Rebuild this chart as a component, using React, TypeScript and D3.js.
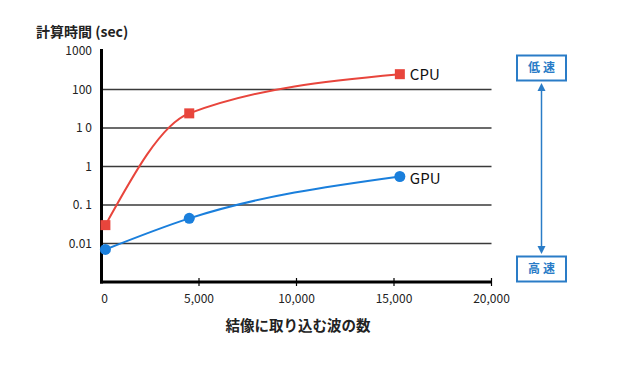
import * as d3 from "d3";
import React, { useRef, useEffect } from "react";

const yTicks = [1000, 100, 10, 1, 0.1, 0.01];
const yTickLabels = ["1000", "100", "1 0", "1", "0. 1", "0.01"];
const gridValues = [100, 10, 1, 0.1, 0.01];
const xTicks = [0, 5000, 10000, 15000, 20000];

const cpuWaves = [200, 4500, 15300];
const cpuTimes = [0.03, 24, 250];
const gpuWaves = [200, 4500, 15300];
const gpuTimes = [0.007, 0.045, 0.55];

const W = 633;
const H = 367;
const FONT = "'Noto Sans CJK JP', 'Noto Sans', sans-serif";
const RED = "#e8453c";
const BLUE = "#1a7fdc";
const SIDE = "#2a7cc7";

const App = () => {
  const ref = useRef(null);

  useEffect(() => {
    if (!ref.current) return;
    const svg = d3.select(ref.current);
    svg.selectAll("*").remove();

    const x = d3.scaleLinear().domain([0, 20000]).range([101.5, 491.5]);
    const y = d3.scaleLog().domain([0.001, 1000]).range([282, 51]);

    // grid lines
    svg
      .append("g")
      .selectAll("line")
      .data(gridValues)
      .enter()
      .append("line")
      .attr("x1", x(0))
      .attr("x2", x(20000))
      .attr("y1", (d) => y(d))
      .attr("y2", (d) => y(d))
      .attr("stroke", "#3a3a3a")
      .attr("stroke-width", 1.6);

    // axes
    svg
      .append("line")
      .attr("x1", x(0))
      .attr("x2", x(0))
      .attr("y1", y(1000) - 2)
      .attr("y2", y(0.001) + 1.5)
      .attr("stroke", "#000")
      .attr("stroke-width", 3);
    svg
      .append("line")
      .attr("x1", x(0) - 1.5)
      .attr("x2", x(20000))
      .attr("y1", y(0.001))
      .attr("y2", y(0.001))
      .attr("stroke", "#000")
      .attr("stroke-width", 3);

    svg
      .append("g")
      .selectAll("line")
      .data(xTicks.slice(1))
      .enter()
      .append("line")
      .attr("x1", (d) => x(d))
      .attr("x2", (d) => x(d))
      .attr("y1", y(0.001) - 4)
      .attr("y2", y(0.001) + 4)
      .attr("stroke", "#000")
      .attr("stroke-width", 1.2);

    // y tick labels
    svg
      .append("g")
      .selectAll("text")
      .data(yTicks)
      .enter()
      .append("text")
      .attr("x", 92)
      .attr("y", (d) => y(d))
      .attr("dy", "0.35em")
      .attr("text-anchor", "end")
      .style("font-family", FONT)
      .style("font-size", "12px")
      .attr("fill", "#222")
      .text((d, i) => yTickLabels[i]);

    // x tick labels
    svg
      .append("g")
      .selectAll("text")
      .data(xTicks)
      .enter()
      .append("text")
      .attr("x", (d) => (d === 0 ? x(d) + 3 : x(d)))
      .attr("y", 303)
      .attr("text-anchor", "middle")
      .style("font-family", FONT)
      .style("font-size", "12px")
      .attr("fill", "#222")
      .text((d) => d3.format(",")(d));

    // titles
    svg
      .append("text")
      .attr("x", 36)
      .attr("y", 37)
      .style("font-family", FONT)
      .style("font-size", "14px")
      .style("font-weight", "bold")
      .attr("fill", "#222")
      .text("計算時間 (sec)");
    svg
      .append("text")
      .attr("x", 298)
      .attr("y", 331)
      .attr("text-anchor", "middle")
      .style("font-family", FONT)
      .style("font-size", "14.5px")
      .style("font-weight", "bold")
      .attr("fill", "#222")
      .text("結像に取り込む波の数");

    const line = d3
      .line()
      .x((d) => x(d[0]))
      .y((d) => y(d[1]))
      .curve(d3.curveMonotoneX);

    const cpu = cpuWaves.map((w, i) => [w, cpuTimes[i]]);
    const gpu = gpuWaves.map((w, i) => [w, gpuTimes[i]]);

    svg
      .append("path")
      .datum(cpu)
      .attr("fill", "none")
      .attr("stroke", RED)
      .attr("stroke-width", 2)
      .attr("d", line);
    svg
      .append("g")
      .selectAll("rect")
      .data(cpu)
      .enter()
      .append("rect")
      .attr("x", (d) => x(d[0]) - 5)
      .attr("y", (d) => y(d[1]) - 5)
      .attr("width", 10)
      .attr("height", 10)
      .attr("fill", RED);

    svg
      .append("path")
      .datum(gpu)
      .attr("fill", "none")
      .attr("stroke", BLUE)
      .attr("stroke-width", 2)
      .attr("d", line);
    svg
      .append("g")
      .selectAll("circle")
      .data(gpu)
      .enter()
      .append("circle")
      .attr("cx", (d) => x(d[0]))
      .attr("cy", (d) => y(d[1]))
      .attr("r", 5.5)
      .attr("fill", BLUE);

    // series labels
    const last = cpu.length - 1;
    svg
      .append("text")
      .attr("x", x(cpu[last][0]) + 10)
      .attr("y", y(cpu[last][1]))
      .attr("dy", "0.36em")
      .style("font-family", FONT)
      .style("font-size", "15px")
      .attr("fill", "#111")
      .text("CPU");
    svg
      .append("text")
      .attr("x", x(gpu[last][0]) + 10)
      .attr("y", y(gpu[last][1]) + 2)
      .attr("dy", "0.36em")
      .style("font-family", FONT)
      .style("font-size", "15px")
      .attr("fill", "#111")
      .text("GPU");

    // speed indicator
    const side = svg.append("g");
    const ax = 541.5;
    [
      { label: "低速", top: 55.5 },
      { label: "高速", top: 256.5 },
    ].forEach((b) => {
      side
        .append("rect")
        .attr("x", 517)
        .attr("y", b.top)
        .attr("width", 49)
        .attr("height", 25)
        .attr("fill", "#fff")
        .attr("stroke", SIDE)
        .attr("stroke-width", 2);
      side
        .append("text")
        .attr("x", ax + 1.5)
        .attr("y", b.top + 12.5)
        .attr("dy", "0.36em")
        .attr("text-anchor", "middle")
        .style("font-family", FONT)
        .style("font-size", "12px")
        .style("font-weight", "bold")
        .style("letter-spacing", "3px")
        .attr("fill", SIDE)
        .text(b.label);
    });
    side
      .append("line")
      .attr("x1", ax)
      .attr("x2", ax)
      .attr("y1", 88)
      .attr("y2", 249)
      .attr("stroke", SIDE)
      .attr("stroke-width", 1.5);
    side
      .append("path")
      .attr("d", `M${ax},83 L${ax - 4},91 L${ax + 4},91 Z`)
      .attr("fill", SIDE);
    side
      .append("path")
      .attr("d", `M${ax},254 L${ax - 4},246 L${ax + 4},246 Z`)
      .attr("fill", SIDE);
  }, []);

  return (
    <svg
      ref={ref}
      width={W}
      height={H}
      style={{ position: "absolute", left: 0, top: 0, background: "#fff" }}
    />
  );
};

export default App;
